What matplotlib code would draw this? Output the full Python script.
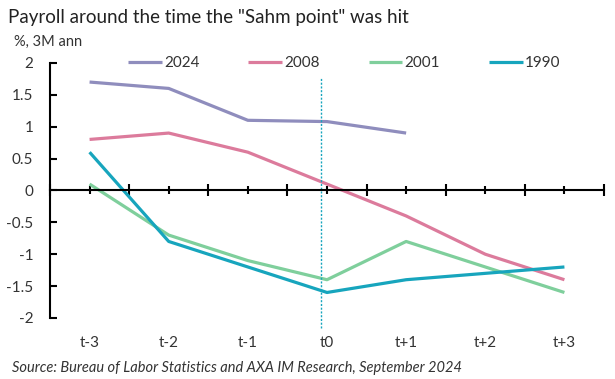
import numpy as np
import matplotlib
matplotlib.use("Agg")
import matplotlib.pyplot as plt

# data
periods = ["t-3", "t-2", "t-1", "t0", "t+1", "t+2", "t+3"]
y2024 = [1.7, 1.6, 1.1, 1.08, 0.9]
y2008 = [0.8, 0.9, 0.6, 0.1, -0.4, -1.0, -1.4]
y2001 = [0.1, -0.7, -1.1, -1.4, -0.8, -1.2, -1.6]
y1990 = [0.6, -0.8, -1.2, -1.6, -1.4, -1.3, -1.2]
yticks = [-2, -1.5, -1, -0.5, 0, 0.5, 1, 1.5, 2]

series = [
    ("2024", y2024, "#8f8dbd"),
    ("2008", y2008, "#dc7b9c"),
    ("2001", y2001, "#7fcf9c"),
    ("1990", y1990, "#17a5bd"),
]

plt.rcParams["font.family"] = ["Lato", "DejaVu Sans"]

fig = plt.figure(figsize=(6.15, 3.79), dpi=100)
ax = fig.add_axes([0.0813, 0.161, 0.9008, 0.673])

x = np.arange(len(periods))
for name, vals, col in series:
    ax.plot(x[:len(vals)], vals, color=col, lw=2.3, label=name, solid_capstyle="butt")

# marker line for the "Sahm point"
ax.vlines(2.92, -2.15, 1.77, colors="#17a5bd", linestyles=(0, (1.5, 1.2)), lw=1.0, clip_on=False)

ax.set_xlim(-0.5, len(periods) - 0.5)
ax.set_ylim(-2, 2)
ax.set_yticks(yticks)
ax.set_yticklabels([f"{v:g}" for v in yticks])
ax.tick_params(axis="y", direction="in", length=5, width=1.5, labelsize=11, pad=12,
               labelcolor="#333333")

# x axis sits at zero, category labels at the bottom
for s in ["top", "right"]:
    ax.spines[s].set_visible(False)
ax.spines["left"].set_linewidth(1.5)
ax.spines["bottom"].set_position(("data", 0))
ax.spines["bottom"].set_linewidth(1.5)
ax.set_xticks(np.arange(-0.5, len(periods)), minor=False)
ax.set_xticks(x, minor=True)
ax.set_xticklabels([])
ax.tick_params(axis="x", which="major", direction="inout", length=9, width=1.5)
ax.tick_params(axis="x", which="minor", direction="inout", length=6, width=1.5)
for xi, lab in zip(x, periods):
    ax.text(xi, -0.1, lab, transform=ax.get_xaxis_transform(), ha="center", va="center",
            fontsize=11, color="#333333")

fig.text(0.013, 0.955, 'Payroll around the time the "Sahm point" was hit', fontsize=13.5,
         color="#222222", va="center")
fig.text(0.023, 0.89, "%, 3M ann", fontsize=10.5, color="#333333", va="center")
fig.text(0.02, 0.03, "Source: Bureau of Labor Statistics and AXA IM Research, September 2024",
         fontsize=10.5, style="italic", color="#333333", va="center")

leg = ax.legend(loc="center left", bbox_to_anchor=(0.13, 1.0), ncol=4, frameon=False,
                fontsize=11, handlelength=2.2, handletextpad=0.15, columnspacing=3.2,
                borderaxespad=0)
for t in leg.get_texts():
    t.set_color("#333333")

fig.savefig("out.png", dpi=100)
